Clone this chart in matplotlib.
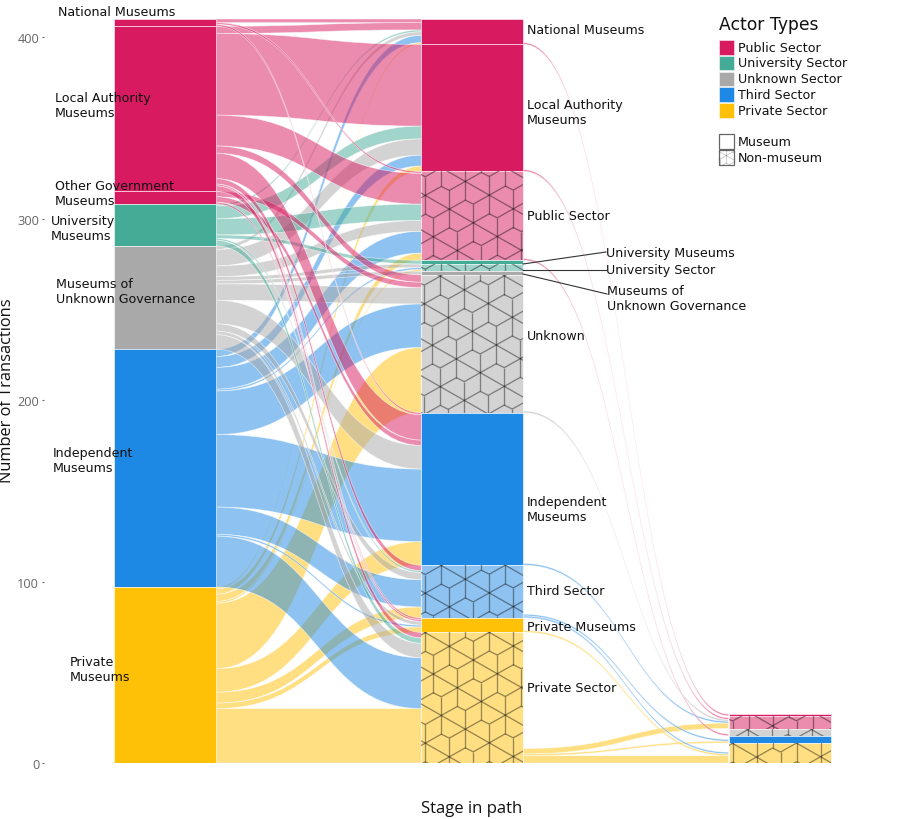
import numpy as np
import matplotlib
matplotlib.use("Agg")
import matplotlib.pyplot as plt
from matplotlib.path import Path
from matplotlib.patches import PathPatch, Rectangle
from matplotlib.collections import LineCollection

# nodes of each stage, top to bottom
stage1_nodes = ["National", "Local", "OtherGov", "University", "Unknown", "Independent", "Private"]
stage2_nodes = ["National", "Local", "PublicS", "UniM", "UniS", "UnkM", "UnkS", "Independent", "ThirdS", "PrivM", "PrivS"]
stage3_nodes = ["PublicM", "PublicS", "UnkS", "Independent", "PrivS"]
stage3_sizes = [1, 7, 4, 4, 11]

# transactions from each stage 1 node to the stage 2 nodes (same order as stage2_nodes)
from_national =    [2,  0,  1, 0, 0, 0,  0,  1,  0, 0,  0]
from_local =       [4, 45, 17, 0, 0, 0,  4, 14,  3, 1,  3]
from_othergov =    [0,  0,  0, 0, 0, 0,  3,  3,  0, 1,  0]
from_university =  [1,  7,  9, 2, 0, 0,  0,  0,  1, 0,  3]
from_unknown =     [2,  9,  6, 0, 2, 2,  9, 13,  4, 2,  8]
from_independent = [4,  6, 12, 0, 1, 0, 24, 40, 15, 1, 28]
from_private =     [1,  3,  4, 0, 1, 0, 36, 13,  6, 3, 30]
stage1_flows = [from_national, from_local, from_othergov, from_university,
                from_unknown, from_independent, from_private]

# stage 2 -> stage 3 (source, target, transactions)
stage2_flows = [("National", "PublicM", 1), ("Local", "PublicS", 1), ("UnkS", "PublicS", 1),
                ("Independent", "PublicS", 1), ("PrivS", "PublicS", 3), ("PublicS", "UnkS", 1),
                ("ThirdS", "Independent", 1), ("PrivS", "Independent", 1), ("ThirdS", "PrivS", 1),
                ("PrivM", "PrivS", 1), ("PrivS", "PrivS", 4)]

PINK = "#D81B60"
TEAL = "#44AB97"
GREY = "#A9A9A9"
BLUE = "#1E88E5"
AMBER = "#FFC107"
colours = {"National": PINK, "Local": PINK, "OtherGov": PINK, "PublicS": PINK, "PublicM": PINK,
           "University": TEAL, "UniM": TEAL, "UniS": TEAL,
           "Unknown": GREY, "UnkM": GREY, "UnkS": GREY,
           "Independent": BLUE, "ThirdS": BLUE,
           "Private": AMBER, "PrivM": AMBER, "PrivS": AMBER}
non_museum = ["PublicS", "UniS", "UnkS", "ThirdS", "PrivS"]

yticks = [0, 100, 200, 300, 400]
legend_actors = ["Public Sector", "University Sector", "Unknown Sector", "Third Sector", "Private Sector"]
legend_colours = [PINK, TEAL, GREY, BLUE, AMBER]

# (text, x px, centre y px)
left_labels = [("National Museums", 58, 12), ("Local Authority\nMuseums", 55, 106),
               ("Other Government\nMuseums", 55, 194), ("University\nMuseums", 51, 229),
               ("Museums of\nUnknown Governance", 56, 292), ("Independent\nMuseums", 53, 461),
               ("Private\nMuseums", 70, 670)]
right_labels = [("National Museums", 527, 31), ("Local Authority\nMuseums", 527, 113),
                ("Public Sector", 527, 217), ("Unknown", 527, 337),
                ("Independent\nMuseums", 527, 510), ("Third Sector", 527, 592),
                ("Private Museums", 527, 628), ("Private Sector", 527, 689)]
side_labels = [("University Museums", 606, 254, 523, 265, 253), ("University Sector", 606, 271, 523, 271, 271),
               ("Museums of\nUnknown Governance", 607, 299, 523, 275, 295)]

NODE_W = 0.332
LABEL_FONT = "DejaVu Sans"
AXIS_FONT = "Open Sans"

fig = plt.figure(figsize=(9.04, 8.2), dpi=100)
ax = fig.add_axes([44 / 904, (820 - 764) / 820, 816 / 904, 744 / 820])
ax.set_xlim(-0.394, 2.262)
ax.set_ylim(0, 410)
for s in ax.spines.values():
    s.set_visible(False)
ax.set_xticks([])
ax.set_yticks(yticks)
ax.tick_params(axis="y", length=1.5, width=0.8, color="#666666", labelcolor="#666666", pad=2)
for t in ax.get_yticklabels():
    t.set_fontfamily(AXIS_FONT)
    t.set_fontsize(9.2)

# overlay in pixel coordinates for labels, legend and the hatching
over = fig.add_axes([0, 0, 1, 1])
over.set_xlim(0, 904)
over.set_ylim(820, 0)
over.axis("off")
over.patch.set_alpha(0)


def ribbon(x0, x1, t0, b0, t1, b1, colour):
    xm = (x0 + x1) / 2
    verts = [(x0, t0), (xm, t0), (xm, t1), (x1, t1), (x1, b1), (xm, b1), (xm, b0), (x0, b0), (x0, t0)]
    codes = [Path.MOVETO, Path.CURVE4, Path.CURVE4, Path.CURVE4, Path.LINETO,
             Path.CURVE4, Path.CURVE4, Path.CURVE4, Path.CLOSEPOLY]
    face = matplotlib.colors.to_rgba(colour, 0.5)
    ax.add_patch(PathPatch(Path(verts, codes), facecolor=face, edgecolor=(1, 1, 1, 0.6), linewidth=0.5))


def hatch(left, top, right, bottom, r=1.0, colour=(0, 0, 0, 0.4), lw=0.95, off=(44, 12)):
    # tile: stars on the lattice a, b, joined by Y shaped ends
    a = np.array([24.0, 13.7]) * r
    b = np.array([-16.0, 27.7]) * r
    v = np.array([0.0, 18.7]) * r
    origin = np.array([left + off[0] * r, top + off[1] * r])
    segs = []
    for i in range(-12, 13):
        for j in range(-12, 13):
            s = origin + i * a + j * b
            if not (left - 50 * r <= s[0] <= right + 50 * r and top - 50 * r <= s[1] <= bottom + 50 * r):
                continue
            segs.append([s, s + a])
            segs.append([s - v, s + v])
            segs.append([s, s + b - v])
            segs.append([s, s - b + v])
            segs.append([s + v, s + a + b - v])
    lc = LineCollection(segs, colors=[colour], linewidths=lw)
    over.add_collection(lc)
    lc.set_clip_path(Rectangle((left, top), right - left, bottom - top, transform=over.transData))


def to_px(x, y):
    dx, dy = ax.transData.transform((x, y))
    return dx, 820 - dy


# where the first star of the tile sits in each hatched node, px from its corner
hatch_offsets = {"PublicS": (44, 10), "UniS": (44, 10), "UnkS": (43, 15), "ThirdS": (44, 14), "PrivS": (28, 14)}


def draw_node(col, top, bottom, name):
    left = col - NODE_W / 2
    hatched = name in non_museum
    face = matplotlib.colors.to_rgba(colours[name], 0.5 if hatched else 1.0)
    ax.add_patch(Rectangle((left, bottom), NODE_W, top - bottom, facecolor=face,
                           edgecolor=(1, 1, 1, 0.8), linewidth=0.5, zorder=3))
    if hatched:
        x0, y0 = to_px(left, top)
        x1, y1 = to_px(left + NODE_W, bottom)
        hatch(x0, y0, x1, y1, off=hatch_offsets[name])


flows = np.array(stage1_flows)
sizes1 = flows.sum(axis=1)
sizes2 = flows.sum(axis=0)
total = sizes1.sum()

tops1 = total - np.r_[0, np.cumsum(sizes1)[:-1]]
tops2 = total - np.r_[0, np.cumsum(sizes2)[:-1]]
tops3 = sum(stage3_sizes) - np.r_[0, np.cumsum(stage3_sizes)[:-1]]

# stage 1 -> stage 2: right side stacks by source, left side by target
right_pos = {}
for j in range(len(stage2_nodes)):
    y = tops2[j]
    for i in range(len(stage1_nodes)):
        right_pos[(i, j)] = y
        y -= flows[i, j]
# private drawn first and public last, so pink lies on top where bands cross
for i in reversed(range(len(stage1_nodes))):
    src = stage1_nodes[i]
    y = tops1[i]
    for j in range(len(stage2_nodes)):
        v = flows[i, j]
        if v > 0:
            t1 = right_pos[(i, j)]
            ribbon(NODE_W / 2, 1 - NODE_W / 2, y, y - v, t1, t1 - v, colours[src])
        y -= v

# stage 2 -> stage 3, both ends hang from the bottom of their node
out_total = {}
in_total = {}
for s, d, v in stage2_flows:
    out_total[s] = out_total.get(s, 0) + v
    in_total[d] = in_total.get(d, 0) + v
out_y = {}
for n, name in enumerate(stage2_nodes):
    out_y[name] = tops2[n] - sizes2[n] + out_total.get(name, 0)
in_y = {}
for n, name in enumerate(stage3_nodes):
    in_y[name] = tops3[n] - stage3_sizes[n] + in_total.get(name, 0)
for s, d, v in stage2_flows:
    ribbon(1 + NODE_W / 2, 2 - NODE_W / 2, out_y[s], out_y[s] - v, in_y[d], in_y[d] - v, colours[s])
    out_y[s] -= v
    in_y[d] -= v

for n, name in enumerate(stage1_nodes):
    draw_node(0, tops1[n], tops1[n] - sizes1[n], name)
for n, name in enumerate(stage2_nodes):
    draw_node(1, tops2[n], tops2[n] - sizes2[n], name)
for n, name in enumerate(stage3_nodes):
    draw_node(2, tops3[n], tops3[n] - stage3_sizes[n], name)

# text
FS = 9.1
for txt, x, y in left_labels + right_labels:
    over.text(x, y, txt, fontsize=FS, family=LABEL_FONT, va="center", ha="left", color="#111111", linespacing=1.12)
for txt, x, y, lx, ly, ey in side_labels:
    over.text(x, y, txt, fontsize=FS, family=LABEL_FONT, va="center", ha="left", color="#111111", linespacing=1.12)
    over.plot([lx, x], [ly, ey], color="#333333", lw=0.8)

over.text(472, 809, "Stage in path", fontsize=12, family=AXIS_FONT, ha="center", va="center", color="#111111")
over.text(7, 391, "Number of Transactions", fontsize=11.8, family=AXIS_FONT, rotation=90,
          ha="center", va="center", color="#111111")

# legend
over.text(719, 25, "Actor Types", fontsize=12.3, family=LABEL_FONT, va="center", color="#111111")
for k, (lab, c) in enumerate(zip(legend_actors, legend_colours)):
    yy = 41 + k * 15.8
    over.add_patch(Rectangle((719, yy), 15, 14.5, facecolor=c, edgecolor=(1, 1, 1, 0.7), linewidth=0.5))
    over.text(738, yy + 7, lab, fontsize=FS, family=LABEL_FONT, va="center", color="#111111")
over.add_patch(Rectangle((719, 135), 15, 15, facecolor="white", edgecolor="#666666", linewidth=0.9))
over.text(738, 143, "Museum", fontsize=FS, family=LABEL_FONT, va="center", color="#111111")
hatch(719, 151, 734, 166, r=0.4, colour=(0, 0, 0, 0.25), lw=0.5, off=(18, 14))
over.add_patch(Rectangle((719, 151), 15, 15, facecolor="none", edgecolor="#666666", linewidth=0.9))
over.text(738, 158.5, "Non-museum", fontsize=FS, family=LABEL_FONT, va="center", color="#111111")

fig.savefig("out.png", dpi=100)
